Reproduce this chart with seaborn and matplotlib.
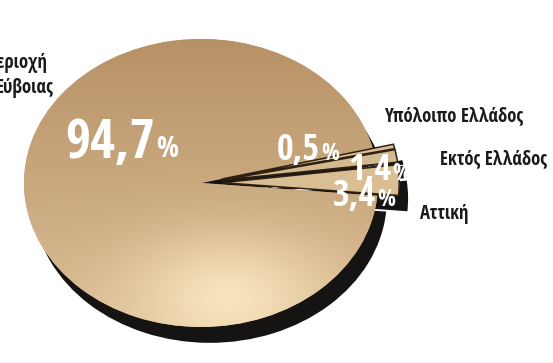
import numpy as np
import matplotlib
matplotlib.use("Agg")
import matplotlib.pyplot as plt
import matplotlib.transforms as mtransforms
import seaborn as sns

# Origin of the visitors (share, %)
regions = ["Υπόλοιπο Ελλάδος", "Εκτός Ελλάδος", "Αττική", "Περιοχή\nΕύβοιας"]
shares = [0.5, 1.4, 3.4, 94.7]
explode = [0.12, 0.12, 0.12, 0.0]

sns.set_theme(style="white")
plt.rcParams["font.family"] = ["Open Sans Condensed", "DejaVu Sans"]

W, H = 553, 363
fig = plt.figure(figsize=(W / 100, H / 100), dpi=100)
fig.patch.set_facecolor("white")
ax = fig.add_axes([0, 0, 1, 1])

# pixel-based transform for the annotations (origin at top-left)
px = mtransforms.Affine2D().scale(1 / W, -1 / H).translate(0, 1) + fig.transFigure

# ellipse placement of the unit pie, in pixels
cx, cy, rx, ry = 201, 183, 177, 144
start = 14

# dark rim / drop shadow below the pie
shadow, _ = ax.pie(shares, explode=explode, startangle=start, counterclock=False,
                   colors=["#161412"] * 4, center=(0.05, -0.11),
                   wedgeprops=dict(linewidth=0))
for w in shadow:
    w.set_zorder(1)

# top surface
wedges, _ = ax.pie(shares, explode=explode, startangle=start, counterclock=False,
                   colors=["#dcc197", "#d4b88e", "#d9bd93", "#c4a077"],
                   wedgeprops=dict(linewidth=0))
for w in wedges:
    w.set_zorder(2)
for w in wedges[:3]:
    w.set_edgecolor("#2e2114")
    w.set_linewidth(1.1)
    w.set_zorder(3)

# warm gradient on the main slice
gx = np.linspace(-1.3, 1.3, 300)
gy = np.linspace(1.3, -1.3, 300)
X, Y = np.meshgrid(gx, gy)
t = 0.55 * np.clip((1 - Y) / 2, 0, 1) + 0.5 * np.exp(-((X - 0.15) ** 2 / 0.3 + (Y + 0.75) ** 2 / 0.18))
t = np.clip(t, 0, 1)
c0 = np.array([0.72, 0.57, 0.40])
c1 = np.array([0.97, 0.89, 0.74])
img = c0[None, None, :] * (1 - t[..., None]) + c1[None, None, :] * t[..., None]
im = ax.imshow(img, extent=(-1.3, 1.3, -1.3, 1.3), aspect="auto", zorder=2.5,
               interpolation="bilinear")
im.set_clip_path(wedges[3])

ax.set_aspect("auto")
ax.set_xlim(-cx / rx, (W - cx) / rx)
ax.set_ylim(-(H - cy) / ry, cy / ry)
ax.axis("off")


def fmt(v):
    return f"{v:.1f}".replace(".", ",")


def pct_label(value, x, y, big, small):
    t1 = ax.text(x, y, fmt(value), transform=px, color="white", fontsize=big,
                 fontweight="bold", ha="left", va="baseline", zorder=6)
    ax.annotate("%", xy=(1, 0), xycoords=t1, xytext=(1, 0.27 * (big - small)),
                textcoords="offset points", color="white", fontsize=small,
                fontweight="bold", ha="left", va="bottom", zorder=6)


pct_label(shares[3], 65, 158, 39, 21)
pct_label(shares[0], 277, 160, 26, 17)
pct_label(shares[1], 348, 180, 26, 17)
pct_label(shares[2], 333, 206, 26, 17)

lab = dict(transform=px, color="#1a1a1a", fontsize=13.5, fontweight="bold",
           ha="left", va="baseline", zorder=6)
ax.text(384, 121, regions[0], **lab)
ax.text(440, 164, regions[1], **lab)
ax.text(420, 219, regions[2], **lab)
for i, line in enumerate(regions[3].split("\n")):
    ax.text(-13 + 9 * i, 68 + 25 * i, line, **lab)

fig.savefig("out.png", dpi=100, facecolor="white")
